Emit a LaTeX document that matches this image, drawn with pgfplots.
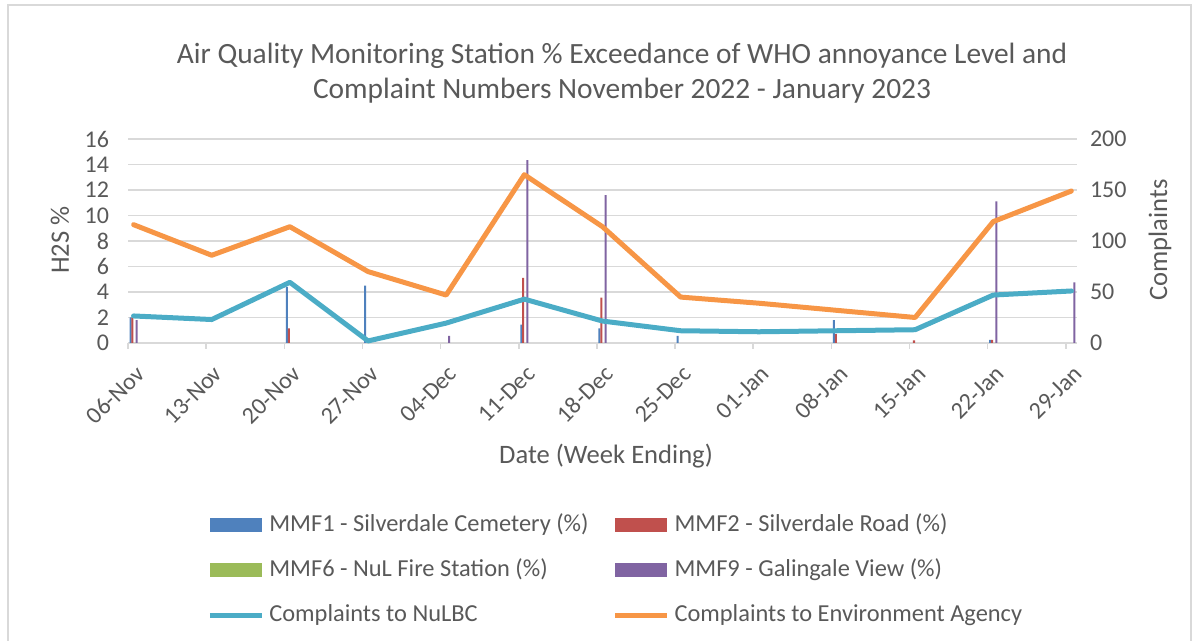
\documentclass[border=0pt]{standalone}
\usepackage{pgfplots}
\pgfplotsset{compat=1.18}
\usepackage{fontspec}
\setmainfont{Carlito}
\definecolor{txt}{HTML}{595959}
\definecolor{gridc}{HTML}{D9D9D9}
\definecolor{mmfa}{HTML}{4F81BD}
\definecolor{mmfb}{HTML}{C0504D}
\definecolor{mmfc}{HTML}{9BBB59}
\definecolor{mmfd}{HTML}{8064A2}
\definecolor{cnul}{HTML}{4BACC6}
\definecolor{cea}{HTML}{F79646}
\begin{document}
\begin{tikzpicture}
\path[use as bounding box] (0pt,0pt) rectangle (599pt,320.5pt);
\draw[gridc, line width=0.6pt] (4pt,-5pt) rectangle (595.5pt,318pt);
\node[txt, font=\fontsize{14.7}{17.5}\selectfont, align=center] at (311pt,284pt)
 {Air Quality Monitoring Station \% Exceedance of WHO annoyance Level and\\Complaint Numbers November 2022 - January 2023};
\node[txt, font=\fontsize{13.3}{15}\selectfont, rotate=90] at (30pt,200.5pt) {H2S \%};
\node[txt, font=\fontsize{13.3}{15}\selectfont, rotate=90] at (580pt,200.5pt) {Complaints};
\node[txt, font=\fontsize{13.3}{15}\selectfont] at (303pt,92.5pt) {Date (Week Ending)};
\begin{axis}[
 at={(64pt,149pt)}, anchor=south west, scale only axis, width=474.5pt, height=102pt,
 xmin=0, xmax=85, ymin=0, ymax=16,
 xtick={0,7,...,84},
 xticklabels={06-Nov,13-Nov,20-Nov,27-Nov,04-Dec,11-Dec,18-Dec,25-Dec,01-Jan,08-Jan,15-Jan,22-Jan,29-Jan},
 ytick={0,2,...,16},
 axis x line*=bottom, axis y line*=left,
 y axis line style={draw=none},
 x axis line style={gridc, line width=0.75pt, -},
 ymajorgrids, grid style={gridc, line width=0.75pt},
 tick align=outside, major tick length=3pt,
 xtick style={gridc, line width=0.75pt},
 ytick style={draw=none},
 /pgf/number format/assume math mode=true,
 ticklabel style={txt, font=\fontsize{12}{14}\selectfont},
 xticklabel style={xshift=8.5pt, yshift=-8pt, rotate=45, anchor=east},
 yticklabel style={xshift=-3pt},
 clip=false,
 legend columns=2,
 legend cell align=left,
 legend style={draw=none, fill=none, at={(0.0832,-0.81)}, anchor=north west, inner sep=0pt,
   font=\fontsize{12.2}{14}\selectfont, text=txt,
   nodes={inner sep=2.5pt, text height=9pt, text depth=2.5pt},
   row sep=6pt,
   /tikz/every even column/.append style={column sep=9.5pt}},
]
\addplot[ybar, bar width=0.18, bar shift=0pt, fill=mmfa, draw=none,
 legend image code/.code={\fill[mmfa] (0pt,-3.5pt) rectangle (26pt,3.5pt);}]
 coordinates {(0.23,2.0) (14.23,4.4) (21.23,4.5) (35.23,1.45) (42.23,1.15) (49.23,0.55) (63.23,1.8) (77.23,0.25)};
\addlegendentry{MMF1 - Silverdale Cemetery (\%)}
\addplot[ybar, bar width=0.18, bar shift=0pt, fill=mmfb, draw=none,
 legend image code/.code={\fill[mmfb] (0pt,-3.5pt) rectangle (26pt,3.5pt);}]
 coordinates {(0.4,2.0) (14.4,1.15) (35.4,5.1) (42.4,3.55) (63.4,0.7) (70.4,0.2) (77.4,0.25)};
\addlegendentry{MMF2 - Silverdale Road (\%)}
\addplot[ybar, bar width=0.18, bar shift=0pt, fill=mmfc, draw=none,
 legend image code/.code={\fill[mmfc] (0pt,-3.5pt) rectangle (26pt,3.5pt);}]
 coordinates {(0.6,0) (35.6,0) (77.6,0)};
\addlegendentry{MMF6 - NuL Fire Station (\%)}
\addplot[ybar, bar width=0.18, bar shift=0pt, fill=mmfd, draw=none,
 legend image code/.code={\fill[mmfd] (0pt,-3.5pt) rectangle (26pt,3.5pt);}]
 coordinates {(0.77,1.8) (28.77,0.55) (35.77,14.35) (42.77,11.6) (77.77,11.1) (84.77,4.75)};
\addlegendentry{MMF9 - Galingale View (\%)}
\addlegendimage{cnul, line width=2.5pt, legend image code/.code={\draw[cnul, line width=2.5pt] (0pt,0pt) -- (26pt,0pt);}}
\addlegendentry{Complaints to NuLBC}
\addlegendimage{cea, line width=2.5pt, legend image code/.code={\draw[cea, line width=2.5pt] (0pt,0pt) -- (26pt,0pt);}}
\addlegendentry{Complaints to Environment Agency}
\end{axis}
\begin{axis}[
 at={(64pt,149pt)}, anchor=south west, scale only axis, width=474.5pt, height=102pt,
 xmin=0, xmax=85, ymin=0, ymax=200,
 ytick={0,50,...,200},
 axis y line*=right, hide x axis,
 y axis line style={draw=none},
 ytick style={draw=none},
 /pgf/number format/assume math mode=true,
 ticklabel style={txt, font=\fontsize{12}{14}\selectfont},
 yticklabel style={xshift=3pt},
 clip=false,
]
\addplot[cnul, line width=2.5pt, line join=round, line cap=round] coordinates {
 (0.5,26.5) (7.5,23) (14.5,59.5) (21.5,2) (28.5,19.5) (35.5,43) (42.5,21.5) (49.5,12) (56.5,11) (63.5,12) (70.5,13) (77.5,47) (84.5,51)};
\addplot[cea, line width=2.5pt, line join=round, line cap=round] coordinates {
 (0.5,116) (7.5,86) (14.5,114) (21.5,70) (28.5,47) (35.5,165) (42.5,114) (49.5,45) (56.5,39) (63.5,32) (70.5,25) (77.5,119) (84.5,149)};
\end{axis}
\end{tikzpicture}
\end{document}
